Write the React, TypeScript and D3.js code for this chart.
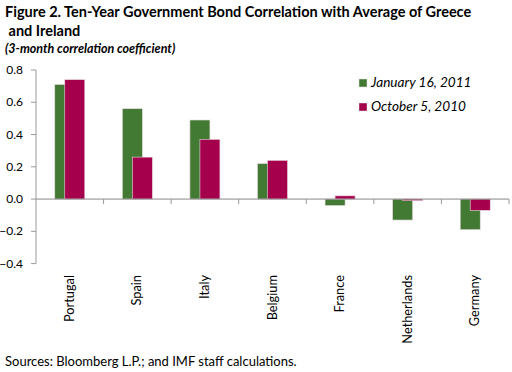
import React from 'react';
import * as d3 from 'd3';

const countries = ['Portugal', 'Spain', 'Italy', 'Belgium', 'France', 'Netherlands', 'Germany'];
const jan2011 = [0.71, 0.56, 0.49, 0.22, -0.04, -0.13, -0.19];
const oct2010 = [0.74, 0.26, 0.37, 0.24, 0.02, -0.01, -0.07];
const yTicks = [0.8, 0.6, 0.4, 0.2, 0.0, -0.2, -0.4];
const seriesNames = ['January 16, 2011', 'October 5, 2010'];
const colors = ['#437a33', '#a5004c'];

const W = 512;
const H = 372;
const font = 'Lato, "Open Sans", sans-serif';

export default function App() {
  const x = d3.scaleBand<string>().domain(countries).range([36, 509]);
  const y = d3.scaleLinear().domain([-0.4, 0.8]).range([263.6, 70]);
  const barW = x.bandwidth() * 0.296;
  const series = [jan2011, oct2010];

  return (
    <svg width={W} height={H} style={{ position: 'absolute', left: 0, top: 0, background: '#fff' }}>
      <text x={5} y={17} fontFamily={font} fontWeight="bold" fontSize={14.5} fill="#000">
        Figure 2. Ten-Year Government Bond Correlation with Average of Greece
      </text>
      <text x={5} y={36} fontFamily={font} fontWeight="bold" fontSize={14.5} fill="#000">
        {'\u00a0and Ireland'}
      </text>
      <text x={5} y={53} fontFamily={font} fontWeight="bold" fontStyle="italic" fontSize={12.5} fill="#000">
        (3-month correlation  coefficient)
      </text>

      {/* y axis */}
      <line x1={36} x2={36} y1={y(0.8)} y2={y(-0.4)} stroke="#999" />
      {yTicks.map((t) => (
        <g key={t}>
          <line x1={31} x2={36} y1={y(t)} y2={y(t)} stroke="#999" />
          <text x={23} y={y(t) + 4} textAnchor="end" fontFamily={font} fontSize={12} fill="#000">
            {d3.format('.1f')(t)}
          </text>
        </g>
      ))}

      {/* bars */}
      {series.map((vals, si) =>
        countries.map((c, i) => {
          const cx = (x(c) as number) + x.bandwidth() / 2;
          const x0 = cx - barW * 0.75 + si * barW * 0.5;
          const v = vals[i];
          return (
            <rect
              key={`${si}-${c}`}
              x={x0}
              width={barW}
              y={Math.min(y(v), y(0))}
              height={Math.abs(y(v) - y(0))}
              fill={colors[si]}
              stroke="#e8d8e0"
              strokeWidth={0.6}
            />
          );
        })
      )}

      {/* zero line and category ticks */}
      <line x1={36} x2={509} y1={y(0)} y2={y(0)} stroke="#888" strokeWidth={1} />
      {countries.map((c) => (
        <line key={c} x1={(x(c) as number) + x.bandwidth()} x2={(x(c) as number) + x.bandwidth()} y1={y(0)} y2={y(0) + 5} stroke="#999" />
      ))}

      {/* category labels */}
      {countries.map((c) => {
        const cx = (x(c) as number) + x.bandwidth() / 2 + 4;
        return (
          <text
            key={c}
            transform={`translate(${cx},275) rotate(-90)`}
            textAnchor="end"
            fontFamily={font}
            fontSize={12.8}
            fill="#000"
          >
            {c}
          </text>
        );
      })}

      {/* legend */}
      {seriesNames.map((n, i) => (
        <g key={n} transform={`translate(359,${79 + i * 24})`}>
          <rect width={8} height={8} fill={colors[i]} stroke="#ddd" strokeWidth={0.5} />
          <text x={12} y={8} fontFamily={font} fontStyle="italic" fontSize={13.6} fill="#000">
            {n}
          </text>
        </g>
      ))}

      <text x={5} y={366} fontFamily={font} fontSize={13} fill="#000">
        Sources: Bloomberg L.P.; and IMF staff calculations.
      </text>
    </svg>
  );
}
